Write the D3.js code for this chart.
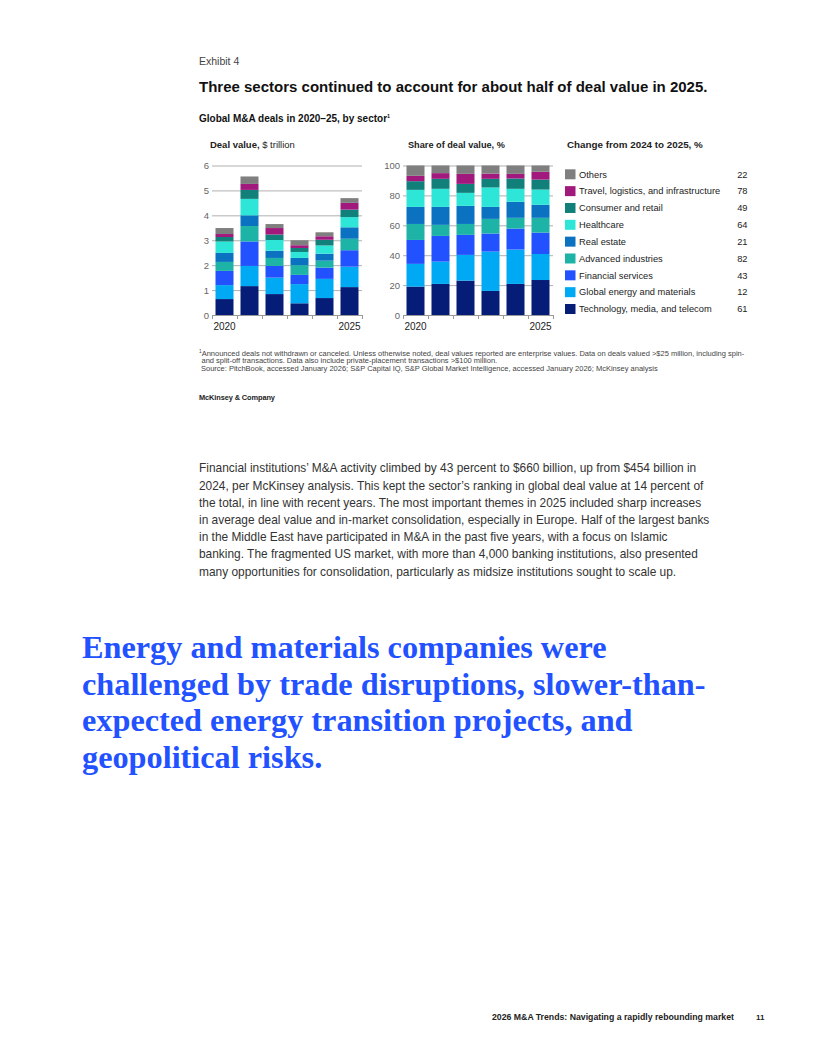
<!DOCTYPE html>
<html>
<head>
<meta charset="utf-8">
<script src="https://cdn.jsdelivr.net/npm/d3@7"></script>
<style>
  body { margin: 0; background: #fff; }
  svg { display: block; }
</style>
</head>
<body>
<script>
const years = [2020, 2021, 2022, 2023, 2024, 2025];
const yearLabels = [2020, 2025];

// bottom to top of each stack
const sectors = [
  'Technology, media, and telecom',
  'Global energy and materials',
  'Financial services',
  'Advanced industries',
  'Real estate',
  'Healthcare',
  'Consumer and retail',
  'Travel, logistics, and infrastructure',
  'Others'
];
const colors = ['#061d77', '#00a9f4', '#2251ff', '#1db3a6', '#0b72c2', '#2ee6d8', '#11807a', '#a2197e', '#7f7f7f'];
const change = [61, 12, 43, 82, 21, 64, 49, 78, 22];

// deal value, $ trillion, 2020..2025, one row per sector
const dealValue = [
  [0.64, 1.16, 0.84, 0.47, 0.68, 1.12],
  [0.56, 0.81, 0.66, 0.77, 0.77, 0.82],
  [0.57, 0.98, 0.47, 0.37, 0.45, 0.66],
  [0.36, 0.62, 0.32, 0.39, 0.28, 0.46],
  [0.36, 0.43, 0.29, 0.29, 0.28, 0.46],
  [0.46, 0.66, 0.43, 0.24, 0.33, 0.41],
  [0.18, 0.36, 0.22, 0.16, 0.23, 0.30],
  [0.12, 0.24, 0.26, 0.11, 0.14, 0.27],
  [0.24, 0.30, 0.16, 0.20, 0.16, 0.19]
];

// share of deal value, %, 2020..2025, one row per sector
const dealShare = [
  [19.0, 20.8, 23.0, 16.1, 20.8, 23.4],
  [15.2, 14.9, 17.2, 26.3, 23.0, 17.4],
  [16.0, 17.2, 13.4, 12.1, 14.0, 14.3],
  [10.7, 7.4, 7.3, 9.8, 7.2, 9.9],
  [11.4, 12.0, 12.1, 8.0, 10.7, 8.7],
  [11.4, 12.1, 8.7, 13.0, 8.7, 10.2],
  [5.8, 6.7, 6.0, 5.8, 6.9, 6.7],
  [3.6, 3.8, 6.7, 3.5, 3.1, 5.2],
  [6.9, 5.1, 5.6, 5.4, 5.6, 4.2]
];

const valueTicks = [0, 1, 2, 3, 4, 5, 6];
const shareTicks = [0, 20, 40, 60, 80, 100];

const paragraph = [
  "Financial institutions\u2019 M&A activity climbed by 43 percent to $660 billion, up from $454 billion in",
  "2024, per McKinsey analysis. This kept the sector\u2019s ranking in global deal value at 14 percent of",
  "the total, in line with recent years. The most important themes in 2025 included sharp increases",
  "in average deal value and in-market consolidation, especially in Europe. Half of the largest banks",
  "in the Middle East have participated in M&A in the past five years, with a focus on Islamic",
  "banking. The fragmented US market, with more than 4,000 banking institutions, also presented",
  "many opportunities for consolidation, particularly as midsize institutions sought to scale up."
];
const pullQuote = [
  "Energy and materials companies were",
  "challenged by trade disruptions, slower-than-",
  "expected energy transition projects, and",
  "geopolitical risks."
];
const footnotes = [
  "Announced deals not withdrawn or canceled. Unless otherwise noted, deal values reported are enterprise values. Data on deals valued >$25 million, including spin-",
  "and split-off transactions. Data also include private-placement transactions >$100 million.",
  "Source: PitchBook, accessed January 2026; S&P Capital IQ, S&P Global Market Intelligence, accessed January 2026; McKinsey analysis"
];

const sans = '"Liberation Sans", Arial, sans-serif';
const serif = '"Liberation Serif", "DejaVu Serif", serif';
const ink = '#222';
const grid = '#b0b0b0';
const tickInk = '#666';

const svg = d3.select('body').append('svg')
  .attr('width', 816)
  .attr('height', 1056)
  .attr('viewBox', '0 0 816 1056')
  .style('font-family', sans);

// font size that makes the text in sel (summed over its nodes) as wide as w
function fitWidth(sel, w) {
  const len = d3.sum(sel.nodes(), n => n.getComputedTextLength());
  const fs = parseFloat(sel.attr('font-size'));
  return fs * w / len;
}

// header
svg.append('text').attr('x', 199).attr('y', 64.5)
  .attr('font-size', 10.5).attr('fill', '#444').text('Exhibit 4');

const title = svg.append('text').attr('x', 199).attr('y', 92)
  .attr('font-size', 14.5).attr('font-weight', 'bold').attr('fill', '#111')
  .text('Three sectors continued to account for about half of deal value in 2025.');
title.attr('font-size', fitWidth(title, 509));

const sub = svg.append('text').attr('x', 199).attr('y', 121.5)
  .attr('font-size', 10).attr('font-weight', 'bold').attr('fill', '#111');
sub.append('tspan').text('Global M&A deals in 2020\u201325, by sector');
sub.append('tspan').attr('font-size', 5.5).attr('dy', -4).text('1');

// stacked data
const rows = (matrix) => years.map((year, i) => {
  const r = { year };
  sectors.forEach((s, j) => r[s] = matrix[j][i]);
  return r;
});
const stack = d3.stack().keys(sectors);

function drawChart(opts) {
  const { x0, data, yMax, ticks, label } = opts;
  const g = svg.append('g');
  const x = d3.scaleBand().domain(years).range([x0, x0 + 150]).paddingInner(0.28).paddingOuter(0.14);
  const y = d3.scaleLinear().domain([0, yMax]).range([315, 165.5]);

  const yAxis = g.append('g')
    .attr('transform', `translate(${x0},0)`)
    .call(d3.axisLeft(y).tickValues(ticks).tickFormat(d3.format('d')).tickSize(-150).tickPadding(3));
  yAxis.select('.domain').remove();
  yAxis.selectAll('line').attr('stroke', grid);
  yAxis.selectAll('text').attr('fill', tickInk).attr('font-size', 9.5).attr('font-family', sans);

  g.selectAll('g.layer')
    .data(stack(data))
    .join('g')
    .attr('class', 'layer')
    .attr('fill', (d, i) => colors[i])
    .selectAll('rect')
    .data(d => d)
    .join('rect')
    .attr('x', d => x(d.data.year))
    .attr('width', x.bandwidth())
    .attr('y', d => y(d[1]))
    .attr('height', d => y(d[0]) - y(d[1]));

  // baseline with ticks between the bars
  const edges = d3.scaleLinear().domain([0, years.length]).range([x0, x0 + 150]);
  const base = g.append('g')
    .attr('transform', 'translate(0,315)')
    .call(d3.axisBottom(edges).ticks(years.length).tickSize(4).tickSizeOuter(0).tickFormat(''));
  base.selectAll('line, path').attr('stroke', '#999');

  const xAxis = g.append('g')
    .attr('transform', 'translate(0,315)')
    .call(d3.axisBottom(x).tickValues(yearLabels).tickSize(0).tickPadding(8));
  xAxis.select('.domain').remove();
  xAxis.selectAll('text').attr('fill', ink).attr('font-size', 10).attr('font-family', sans);

  const t = g.append('text').attr('x', label.x).attr('y', 147.5)
    .attr('font-size', 9).attr('fill', ink);
  t.append('tspan').attr('font-weight', 'bold').text(label.bold);
  if (label.rest) t.append('tspan').text(label.rest);
  t.attr('font-size', fitWidth(t, label.w));
}

drawChart({ x0: 212, data: rows(dealValue), yMax: 6, ticks: valueTicks,
  label: { x: 210, w: 85, bold: 'Deal value,', rest: ' $ trillion' } });
drawChart({ x0: 403, data: rows(dealShare), yMax: 100, ticks: shareTicks,
  label: { x: 408, w: 97, bold: 'Share of deal value, %' } });

// legend
const legendTitle = svg.append('text').attr('x', 567).attr('y', 147.5)
  .attr('font-size', 9).attr('font-weight', 'bold').attr('fill', ink)
  .text('Change from 2024 to 2025, %');
legendTitle.attr('font-size', fitWidth(legendTitle, 136));

const legendY = d3.scalePoint().domain(sectors.slice().reverse()).range([174.3, 309]);
const item = svg.append('g').selectAll('g')
  .data(sectors.map((s, i) => ({ s, c: colors[i], v: change[i] })))
  .join('g')
  .attr('transform', d => `translate(0,${legendY(d.s)})`);
item.append('rect').attr('x', 565).attr('y', -5).attr('width', 10.5).attr('height', 10)
  .attr('fill', d => d.c);
item.append('text').attr('x', 579).attr('y', 3.2).attr('font-size', 9.3).attr('fill', ink)
  .text(d => d.s);
item.append('text').attr('x', 747.5).attr('y', 3.2).attr('font-size', 9.3).attr('fill', ink)
  .attr('text-anchor', 'end').text(d => d.v);

// footnotes
const fn = svg.append('g').attr('fill', '#444');
const fn1 = fn.append('text').attr('x', 199).attr('y', 355.5).attr('font-size', 7.5);
fn1.append('tspan').attr('font-size', 4.8).attr('dy', -2.5).text('1');
fn1.append('tspan').attr('dy', 2.5).text(footnotes[0]);
fn.append('text').attr('x', 201.5).attr('y', 363).attr('font-size', 7.5).text(footnotes[1]);
fn.append('text').attr('x', 201).attr('y', 370.5).attr('font-size', 7.5).text(footnotes[2]);

svg.append('text').attr('x', 199).attr('y', 399.5)
  .attr('font-size', 7.4).attr('font-weight', 'bold').attr('fill', '#222')
  .attr('letter-spacing', -0.1).text('McKinsey & Company');

// body copy
const body = svg.append('g').attr('fill', '#333');
const lines = body.selectAll('text').data(paragraph).join('text')
  .attr('x', 199).attr('y', (d, i) => 472.3 + i * 17.23)
  .attr('font-size', 11).text(d => d);
lines.attr('font-size', fitWidth(lines, 3460));

// pull quote
const quote = svg.append('g').attr('fill', '#2251ff').attr('font-family', serif).attr('font-weight', 'bold');
const qLines = quote.selectAll('text').data(pullQuote).join('text')
  .attr('x', 82).attr('y', (d, i) => 658 + i * 36.5)
  .attr('font-size', 29).text(d => d);
qLines.attr('font-size', fitWidth(d3.select(qLines.nodes()[1]), 624));

// footer
const footer = svg.append('text').attr('x', 492).attr('y', 1019.5)
  .attr('font-size', 8).attr('font-weight', 'bold').attr('fill', '#222')
  .text('2026 M&A Trends: Navigating a rapidly rebounding market');
footer.attr('font-size', fitWidth(footer, 242));
svg.append('text').attr('x', 756).attr('y', 1019.5)
  .attr('font-size', 8).attr('font-weight', 'bold').attr('fill', '#222').text('11');
</script>
</body>
</html>
